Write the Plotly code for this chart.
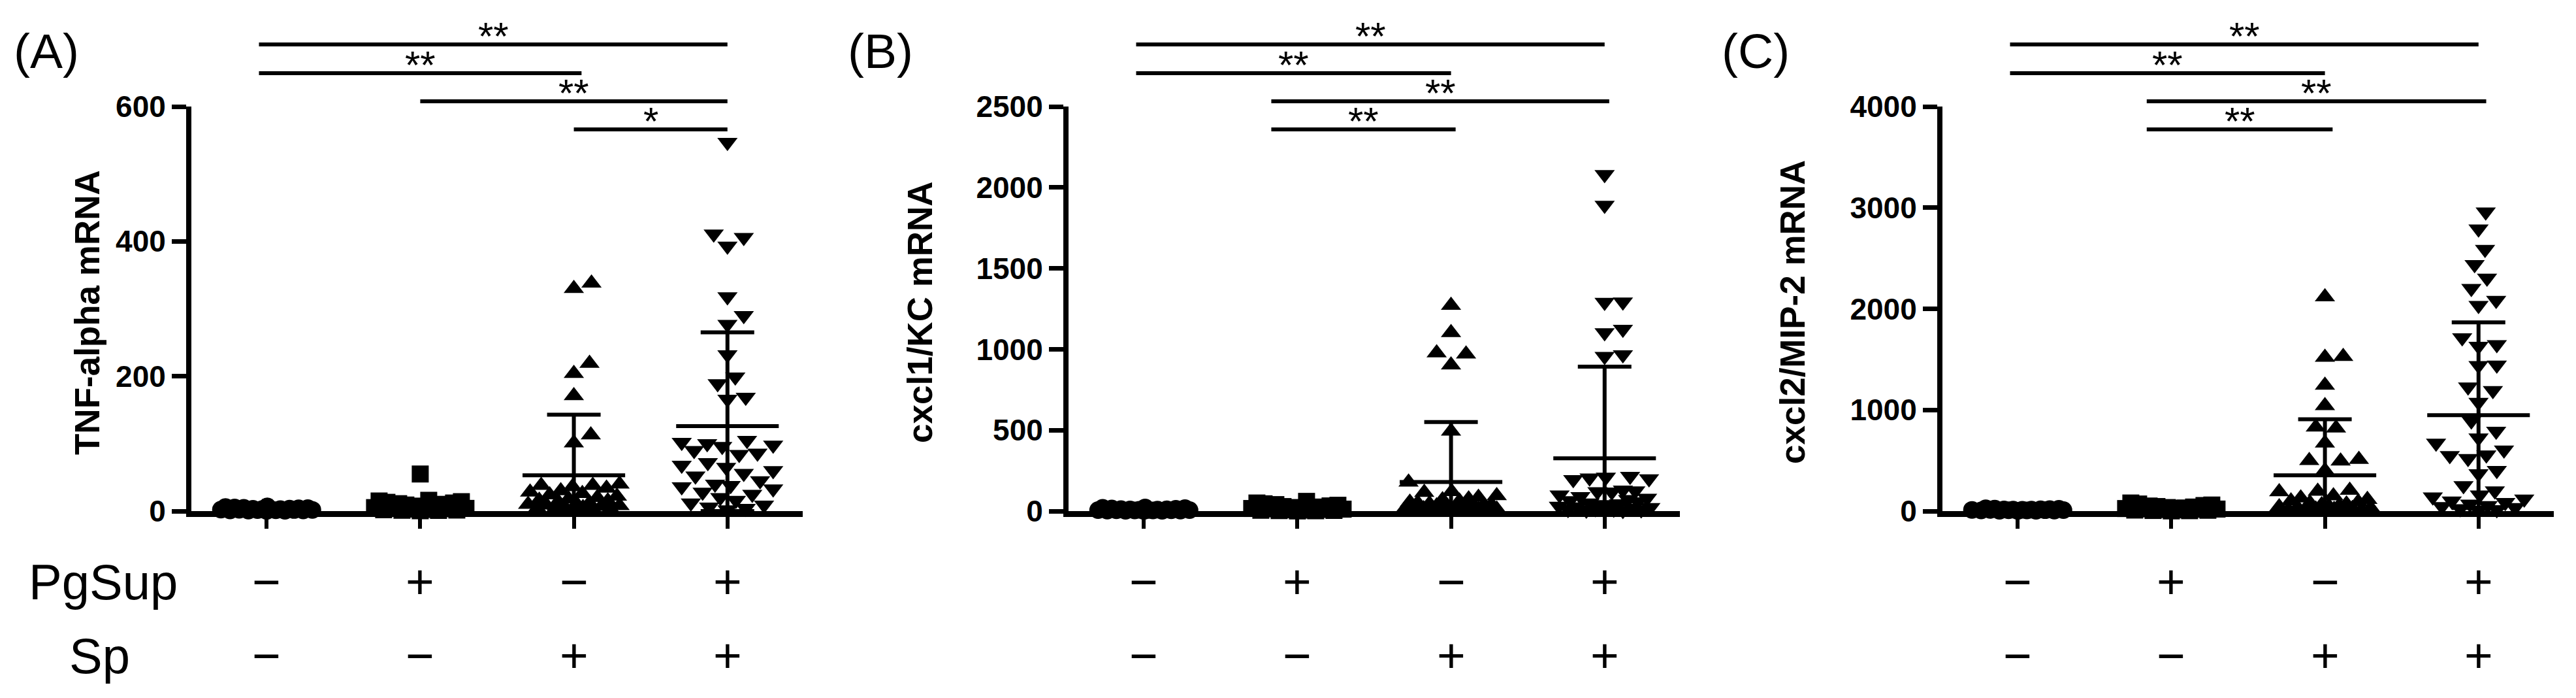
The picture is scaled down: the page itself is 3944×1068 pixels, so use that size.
import math
import plotly.graph_objects as go

# ---- data ----
pgsup_signs = ["\u2212", "+", "\u2212", "+"]
sp_signs = ["\u2212", "\u2212", "+", "+"]

# (A) TNF-alpha mRNA
tnf_ctrl = [0.3, 0.5, 0.7, 0.9, 1.0, 1.2, 1.4, 1.6, 1.8, 2.0, 2.2, 2.5, 2.8, 3.0, 3.3, 3.6, 4.0, 4.4, 4.8, 5.3, 6.0, 7.0]
tnf_pg = [0.5, 1.0, 1.2, 1.5, 2.0, 2.4, 3.0, 3.5, 4.0, 4.6, 5.2, 6.0, 7.0, 8.0, 9.0, 10, 11, 12, 13, 14, 15, 16, 55]
tnf_sp = [338, 330, 219, 204, 171, 113, 101, 40, 38, 38, 36, 34, 30, 28, 26, 24, 22, 20, 18, 16, 15, 14,
          12, 11, 10, 9, 8, 7, 6, 5, 4, 3, 2, 1.5, 1]
tnf_pgsp = [547, 411, 406, 393, 318, 290, 277, 232, 199, 189, 169, 166, 105, 102, 100, 98, 96, 90, 86, 84,
            72, 68, 65, 60, 56, 52, 45, 40, 38, 36, 33, 28, 25, 20, 16, 12, 9, 6, 4, 2]
tnf_mean = [3, 9, 53, 126]
tnf_sd = [2, 8, 90, 139]

# (B) cxcl1/KC mRNA
kc_ctrl = [1, 2, 2, 3, 3, 4, 4, 5, 5, 6, 6, 7, 8, 9, 10, 11, 12, 14, 16, 18, 20, 22]
kc_pg = [1, 2, 3, 4, 5, 6, 8, 10, 12, 14, 16, 18, 20, 22, 25, 28, 32, 36, 40, 45, 50, 60]
kc_sp = [1271, 1103, 977, 970, 903, 494, 179, 120, 115, 95, 85, 75, 70, 62, 55, 50, 45, 40, 36, 32, 28,
         25, 22, 19, 16, 14, 12, 10, 8, 6, 5, 4, 3, 2, 1]
kc_pgsp = [2080, 1890, 1292, 1290, 1124, 1103, 966, 956, 215, 210, 205, 200, 195, 130, 125, 120, 118, 100,
           90, 80, 72, 65, 58, 50, 45, 40, 35, 30, 26, 22, 18, 15, 12, 10, 8, 6, 4, 2]
kc_mean = [8, 20, 180, 326]
kc_sd = [6, 16, 370, 567]

# (C) cxcl2/MIP-2 mRNA
mip_ctrl = [2, 3, 4, 5, 6, 7, 8, 9, 10, 11, 12, 13, 14, 15, 16, 18, 20, 22, 25, 28]
mip_pg = [2, 4, 6, 8, 10, 12, 15, 18, 20, 22, 25, 28, 30, 35, 40, 45, 50, 55, 60, 70, 80]
mip_sp = [2118, 1529, 1520, 1244, 1042, 830, 820, 672, 510, 500, 495, 400, 205, 195, 190, 150, 130, 115,
          100, 90, 80, 70, 62, 55, 48, 42, 36, 30, 25, 20, 16, 12, 9, 6, 4, 2]
mip_pgsp = [2958, 2790, 2588, 2437, 2303, 2202, 2084, 2034, 1714, 1647, 1630, 1445, 1440, 1227, 1193, 1076,
            891, 790, 723, 672, 605, 555, 550, 521, 403, 370, 252, 200, 160, 140, 120, 100, 85, 70, 55,
            45, 35, 25, 15, 8]
mip_mean = [12, 30, 353, 948]
mip_sd = [8, 22, 555, 918]

panels = [
    dict(tag="(A)", title="TNF-alpha mRNA", ymax=600, dtick=200,
         data=[tnf_ctrl, tnf_pg, tnf_sp, tnf_pgsp], mean=tnf_mean, sd=tnf_sd,
         stars=[(-0.05, 3.0, "**"), (-0.05, 2.05, "**"), (1.0, 3.0, "**"), (2.0, 3.0, "*")]),
    dict(tag="(B)", title="cxcl1/KC mRNA", ymax=2500, dtick=500,
         data=[kc_ctrl, kc_pg, kc_sp, kc_pgsp], mean=kc_mean, sd=kc_sd,
         stars=[(-0.05, 3.0, "**"), (-0.05, 2.0, "**"), (0.83, 3.03, "**"), (0.83, 2.03, "**")]),
    dict(tag="(C)", title="cxcl2/MIP-2 mRNA", ymax=4000, dtick=1000,
         data=[mip_ctrl, mip_pg, mip_sp, mip_pgsp], mean=mip_mean, sd=mip_sd,
         stars=[(-0.05, 3.0, "**"), (-0.05, 2.0, "**"), (0.84, 3.05, "**"), (0.84, 2.05, "**")]),
]

# page is 3944x1068; the html body keeps its default 8px margin
OFF = 8
W, H = 3944 - 2 * OFF, 1068 - 2 * OFF
FONT = "Arial, 'Liberation Sans', Helvetica, sans-serif"
symbols = ["circle", "square", "triangle-up", "triangle-down"]
sizes = [27, 26, 27, 27]

# layout in page pixels
plot_left = [293, 1636, 2974]
plot_w = 936
y_bottom, y_top = 782, 163
xr = [-0.49, 3.49]
px_per_cat = plot_w / (xr[1] - xr[0])
title_x = [133, 1408, 2744]
tag_x = [71, 1348, 2688]
bracket_y = [68, 112, 155, 198]


def swarm(values, px_per_unit, d=28, max_half=70):
    order = sorted(range(len(values)), key=lambda i: values[i])
    cands = [0]
    for k in range(1, max_half + 1):
        cands += [k, -k]
    placed = []
    offs = [0.0] * len(values)
    for i in order:
        y = values[i] * px_per_unit
        best, best_score = 0, -1.0
        for c in cands:
            mind = min((math.hypot(c - px, y - py) for px, py in placed), default=1e9)
            if mind >= d:
                best = c
                break
            if mind > best_score:
                best_score, best = mind, c
        placed.append((best, y))
        offs[i] = best
    return offs


def px(pix):
    return (pix - OFF) / W


def py(pix):
    return 1 - (pix - OFF) / H


fig = go.Figure()
shapes, annotations = [], []

for p, panel in enumerate(panels):
    xa = "x" if p == 0 else f"x{p + 1}"
    ya = "y" if p == 0 else f"y{p + 1}"
    px_per_unit = (y_bottom - y_top) / panel["ymax"]

    for g, vals in enumerate(panel["data"]):
        offs = swarm(vals, px_per_unit)
        fig.add_trace(go.Scatter(
            x=[g + o / px_per_cat for o in offs], y=vals, mode="markers",
            marker=dict(symbol=symbols[g], size=sizes[g], color="black", line=dict(width=0)),
            cliponaxis=False, showlegend=False, xaxis=xa, yaxis=ya, hoverinfo="y",
        ))

    # mean line with SD whiskers
    fig.add_trace(go.Scatter(
        x=[0, 1, 2, 3], y=panel["mean"], mode="markers",
        marker=dict(size=1, color="rgba(0,0,0,0)"),
        error_x=dict(type="data", array=[0.334] * 4, width=0, thickness=6, color="black"),
        error_y=dict(type="data", array=panel["sd"],
                     arrayminus=[min(s, m) for s, m in zip(panel["sd"], panel["mean"])],
                     width=41, thickness=6, color="black"),
        cliponaxis=False, showlegend=False, xaxis=xa, yaxis=ya, hoverinfo="skip",
    ))

    dom = [px(plot_left[p]), px(plot_left[p] + plot_w)]
    axis_key = "xaxis" if p == 0 else f"xaxis{p + 1}"
    yaxis_key = "yaxis" if p == 0 else f"yaxis{p + 1}"
    fig.layout[axis_key] = dict(
        domain=dom, range=xr, anchor=ya, showgrid=False, zeroline=False, automargin=False,
        showline=True, linewidth=9, linecolor="black",
        tickmode="array", tickvals=[0, 1, 2, 3], ticks="outside", ticklen=18, tickwidth=6,
        tickcolor="black", showticklabels=False,
    )
    fig.layout[yaxis_key] = dict(
        domain=[py(y_bottom), py(y_top)], range=[0, panel["ymax"]], anchor=xa,
        dtick=panel["dtick"], showgrid=False, zeroline=False, automargin=False,
        showline=True, linewidth=8, linecolor="black",
        ticks="outside", ticklen=22, tickwidth=7, tickcolor="black",
        tickfont=dict(family=FONT, size=46, color="black", weight="bold"),
    )

    # significance brackets
    for k, (x0, x1, label) in enumerate(panel["stars"]):
        shapes.append(dict(type="line", xref=xa, yref="paper", x0=x0, x1=x1,
                           y0=py(bracket_y[k]), y1=py(bracket_y[k]),
                           line=dict(color="black", width=6)))
        annotations.append(dict(text=label, xref=xa, yref="paper", x=(x0 + x1) / 2,
                                y=py(bracket_y[k] - 12), xanchor="center", yanchor="middle",
                                showarrow=False, font=dict(family=FONT, size=60, color="black")))

    # panel tag and y title
    annotations.append(dict(text=panel["tag"], xref="paper", yref="paper", x=px(tag_x[p]), y=py(78),
                            xanchor="center", yanchor="middle", showarrow=False,
                            font=dict(family=FONT, size=75, color="black")))
    annotations.append(dict(text=panel["title"], xref="paper", yref="paper", x=px(title_x[p]), y=py(478),
                            xanchor="center", yanchor="middle", textangle=-90, showarrow=False,
                            font=dict(family=FONT, size=53, color="black", weight="bold")))

    # treatment rows
    for g in range(4):
        annotations.append(dict(text=pgsup_signs[g], xref=xa, yref="paper", x=g, y=py(890),
                                xanchor="center", yanchor="middle", showarrow=False,
                                font=dict(family=FONT, size=75, color="black")))
        annotations.append(dict(text=sp_signs[g], xref=xa, yref="paper", x=g, y=py(1003),
                                xanchor="center", yanchor="middle", showarrow=False,
                                font=dict(family=FONT, size=75, color="black")))

annotations.append(dict(text="PgSup", xref="paper", yref="paper", x=px(158), y=py(890),
                        xanchor="center", yanchor="middle", showarrow=False,
                        font=dict(family=FONT, size=76, color="black")))
annotations.append(dict(text="Sp", xref="paper", yref="paper", x=px(152), y=py(1003),
                        xanchor="center", yanchor="middle", showarrow=False,
                        font=dict(family=FONT, size=76, color="black")))

fig.update_layout(
    width=W, height=H, margin=dict(l=0, r=0, t=0, b=0), autosize=False,
    paper_bgcolor="white", plot_bgcolor="white",
    shapes=shapes, annotations=annotations, showlegend=False,
    font=dict(family=FONT, color="black"),
)

fig.write_html("out.html")
